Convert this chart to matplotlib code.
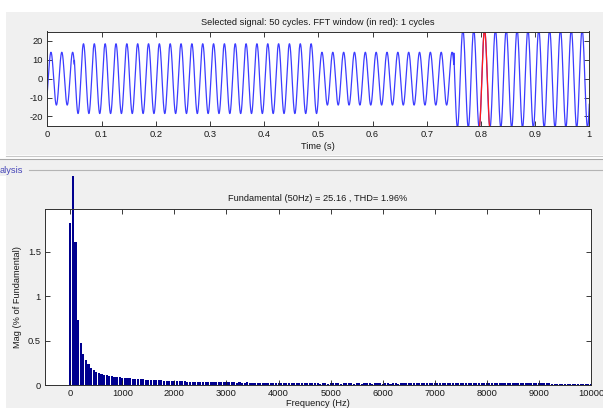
import numpy as np
import matplotlib
matplotlib.use("Agg")
import matplotlib.pyplot as plt
from matplotlib.patches import Rectangle
from matplotlib.lines import Line2D

plt.rcParams['font.family'] = ['Liberation Sans', 'DejaVu Sans']

# ---------------- data ----------------
# time-domain signal (50 Hz sine whose amplitude steps at given instants)
signal_freq_hz = 50
signal_phase_rad = -0.55
segment_edges_s = [0.0, 0.05, 0.5, 0.75, 1.0]
segment_amplitudes = [14.0, 18.5, 14.0, 26.0]
fft_window_s = [0.797, 0.817]

time_ticks = [0, 0.1, 0.2, 0.3, 0.4, 0.5, 0.6, 0.7, 0.8, 0.9, 1.0]
time_tick_labels = ["0", "0.1", "0.2", "0.3", "0.4", "0.5", "0.6", "0.7", "0.8", "0.9", "1"]
signal_yticks = [-20, -10, 0, 10, 20]
signal_ytick_labels = ["-20", "-10", "0", "10", "20"]

# spectrum: one bar every 50 Hz from 0 to 10000 Hz (the 50 Hz bar is drawn clipped)
harmonic_step_hz = 50
harmonic_mag_pct = [
    1.82, 2.355, 1.61, 0.73, 0.475, 0.35, 0.285, 0.235, 0.195, 0.17,
    0.152, 0.138, 0.128, 0.12, 0.113, 0.107, 0.102, 0.097, 0.093, 0.09,
    0.087, 0.084, 0.081, 0.078, 0.076, 0.073, 0.071, 0.068, 0.066, 0.064,
    0.062, 0.060, 0.059, 0.058, 0.056, 0.055, 0.053, 0.050, 0.049, 0.048,
    0.047, 0.046, 0.045, 0.044, 0.043, 0.042, 0.040, 0.036, 0.036, 0.035,
    0.035, 0.035, 0.034, 0.034, 0.034, 0.034, 0.033, 0.033, 0.033, 0.033,
    0.032, 0.032, 0.032, 0.032, 0.031, 0.032, 0.031, 0.031, 0.032, 0.031,
    0.031, 0.031, 0.030, 0.031, 0.031, 0.030, 0.031, 0.030, 0.030, 0.031,
    0.030, 0.030, 0.030, 0.029, 0.030, 0.030, 0.029, 0.030, 0.029, 0.029,
    0.029, 0.028, 0.029, 0.022, 0.021, 0.022, 0.020, 0.022, 0.021, 0.020,
    0.022, 0.023, 0.021, 0.022, 0.020, 0.022, 0.021, 0.023, 0.021, 0.020,
    0.022, 0.021, 0.020, 0.022, 0.021, 0.022, 0.020, 0.021, 0.022, 0.021,
    0.020, 0.022, 0.021, 0.020, 0.022, 0.021, 0.020, 0.022, 0.021, 0.022,
    0.024, 0.025, 0.024, 0.025, 0.024, 0.025, 0.024, 0.023, 0.025, 0.024,
    0.025, 0.024, 0.025, 0.024, 0.023, 0.025, 0.024, 0.025, 0.024, 0.025,
    0.024, 0.025, 0.024, 0.023, 0.025, 0.024, 0.025, 0.024, 0.025, 0.024,
    0.025, 0.024, 0.025, 0.024, 0.023, 0.025, 0.024, 0.025, 0.024, 0.025,
    0.024, 0.025, 0.024, 0.023, 0.025, 0.024, 0.025, 0.024, 0.025, 0.024,
    0.024, 0.025, 0.024, 0.023, 0.024, 0.015, 0.014, 0.015, 0.014, 0.015,
    0.014, 0.015, 0.014, 0.013, 0.014, 0.015, 0.014, 0.013, 0.014, 0.013,
    0.013,
]
freq_ticks = [0, 1000, 2000, 3000, 4000, 5000, 6000, 7000, 8000, 9000, 10000]
freq_tick_labels = ["0", "1000", "2000", "3000", "4000", "5000", "6000", "7000", "8000", "9000", "10000"]
mag_ticks = [0, 0.5, 1.0, 1.5]
mag_tick_labels = ["0", "0.5", "1", "1.5"]

title_top = "Selected signal: 50 cycles. FFT window (in red): 1 cycles"
title_bottom = "Fundamental (50Hz) = 25.16 , THD= 1.96%"
panel_label = "alysis"

# ---------------- figure ----------------
W, H = 603, 408
FS = 6.7
fig = plt.figure(figsize=(W / 100, H / 100), dpi=100)
fig.patch.set_facecolor('white')
GRAY = '#f0f0f0'


def px_rect(x0, y0, x1, y1, color):
    fig.add_artist(Rectangle((x0 / W, 1 - y1 / H), (x1 - x0) / W, (y1 - y0) / H,
                             transform=fig.transFigure, facecolor=color,
                             edgecolor='none', zorder=-10))


def px_hline(x0, x1, y, color, lw=1.0):
    fig.add_artist(Line2D([x0 / W, x1 / W], [1 - y / H, 1 - y / H],
                          transform=fig.transFigure, color=color, lw=lw, zorder=-5))


px_rect(6, 12, W, 155, GRAY)
px_hline(6, W, 155.5, '#c8c8c8', 0.8)
px_hline(0, W, 159.2, '#a8a8a8', 0.8)
px_rect(0, 160, W, 176, GRAY)
px_rect(6, 176, W, H, GRAY)
px_hline(29, W, 170.2, '#b4b4b4', 0.8)
fig.text(0 / W, 1 - 170.5 / H, panel_label, color='#4646b8', fontsize=FS,
         ha='left', va='center')

TXT = '#1a1a1a'
tick_kw = dict(direction='in', length=3.5, width=0.6, top=True, right=True,
               labelsize=FS, pad=3, colors=TXT)

# ---- top axes: signal ----
ax1 = fig.add_axes([47.3 / W, 1 - 125.8 / H, 542 / W, 94.3 / H])
t = np.linspace(0, 1, 20001)
amp = np.zeros_like(t)
for a0, a1, A in zip(segment_edges_s[:-1], segment_edges_s[1:], segment_amplitudes):
    amp[(t >= a0) & (t <= a1)] = A
sig = amp * np.sin(2 * np.pi * signal_freq_hz * t + signal_phase_rad)
ax1.plot(t, sig, color='#3c3cff', lw=0.9)
win = (t >= fft_window_s[0]) & (t <= fft_window_s[1])
ax1.plot(t[win], sig[win], color='#ff1a1a', lw=0.9)
ax1.set_xlim(0, 1)
ax1.set_ylim(-25, 25)
ax1.set_xticks(time_ticks)
ax1.set_xticklabels(time_tick_labels)
ax1.set_yticks(signal_yticks)
ax1.set_yticklabels(signal_ytick_labels)
ax1.tick_params(**tick_kw)
ax1.set_title(title_top, fontsize=FS, pad=4.7, color=TXT)
ax1.set_xlabel("Time (s)", fontsize=FS, labelpad=2, color=TXT)
for s in ax1.spines.values():
    s.set_linewidth(0.7)
    s.set_color('#303030')

# ---- bottom axes: spectrum ----
ax2 = fig.add_axes([45 / W, 1 - 385.3 / H, 546 / W, 176.3 / H])
freqs = np.arange(len(harmonic_mag_pct)) * harmonic_step_hz
bars = ax2.bar(freqs, harmonic_mag_pct, width=0.8 * harmonic_step_hz,
               color='#00008f', linewidth=0)
for b in bars:
    b.set_clip_on(False)
ax2.set_xlim(-485, 10000)
ax2.set_ylim(0, 1.98)
ax2.set_xticks(freq_ticks)
ax2.set_xticklabels(freq_tick_labels)
ax2.set_yticks(mag_ticks)
ax2.set_yticklabels(mag_tick_labels)
ax2.tick_params(**tick_kw)
ax2.set_title(title_bottom, fontsize=FS, pad=6, color=TXT)
ax2.set_xlabel("Frequency (Hz)", fontsize=FS, labelpad=0.3, color=TXT)
ax2.set_ylabel("Mag (% of Fundamental)", fontsize=FS, color=TXT)
ax2.yaxis.set_label_coords((22.5 - 45) / 546, 0.5)
for s in ax2.spines.values():
    s.set_linewidth(0.7)
    s.set_color('#303030')

fig.savefig('out.png', dpi=100, facecolor=fig.get_facecolor())
